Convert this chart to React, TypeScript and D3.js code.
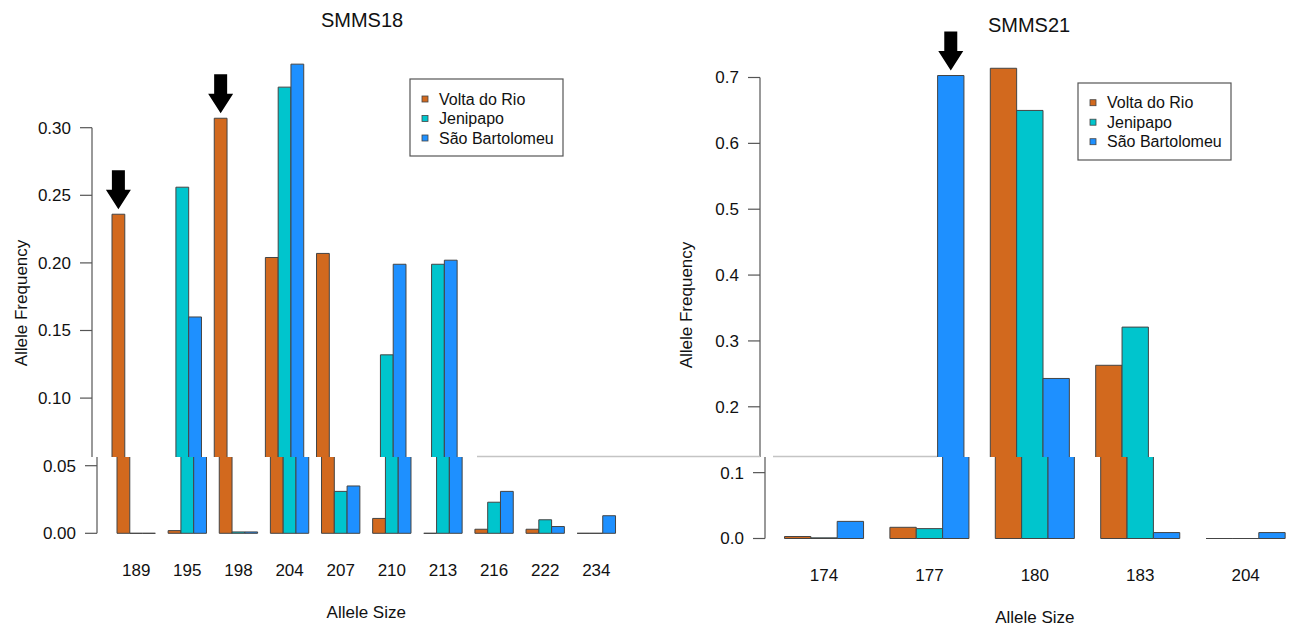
import * as d3 from 'd3'

const series = ['Volta do Rio', 'Jenipapo', 'São Bartolomeu']
const seriesColors = ['#D2691E', '#00C5CD', '#1E90FF']

// SMMS18
const smms18Alleles = ['189', '195', '198', '204', '207', '210', '213', '216', '222', '234']
const smms18VoltaDoRio = [0.236, 0.002, 0.307, 0.204, 0.207, 0.011, 0, 0.003, 0.003, 0]
const smms18Jenipapo = [0, 0.256, 0.001, 0.330, 0.031, 0.132, 0.199, 0.023, 0.010, 0]
const smms18SaoBartolomeu = [0, 0.160, 0.001, 0.347, 0.035, 0.199, 0.202, 0.031, 0.005, 0.013]
const smms18Ticks = [0, 0.05, 0.10, 0.15, 0.20, 0.25, 0.30]
const smms18Arrows = [['189', 'Volta do Rio'], ['198', 'Volta do Rio']]

// SMMS21
const smms21Alleles = ['174', '177', '180', '183', '204']
const smms21VoltaDoRio = [0.003, 0.017, 0.714, 0.263, 0]
const smms21Jenipapo = [0.001, 0.015, 0.650, 0.321, 0]
const smms21SaoBartolomeu = [0.026, 0.703, 0.243, 0.009, 0.009]
const smms21Ticks = [0, 0.1, 0.2, 0.3, 0.4, 0.5, 0.6, 0.7]
const smms21Arrows = [['177', 'São Bartolomeu']]

const FONT = 'Arial, "Liberation Sans", sans-serif'
const TXT = '#111'
const AXIS = '#555'
// the source image has its lower strip (below this y) shifted 5px right
const CUT = 457

type Part = 'upper' | 'lower'

type PanelProps = {
  part: Part
  title: string
  alleles: string[]
  values: number[][]
  ticks: number[]
  fmt: string
  arrows: string[][]
  layout: {
    x0: number; step: number; yBase: number; yTop: number; axisX: number
    titleX: number; titleY: number; labelY: number; xTitleY: number
    yTitleX: number; yTitleY: number
    legX: number; legY: number; legW: number; legH: number; legRow0: number
  }
}

function Panel({ part, title, alleles, values, ticks, fmt, arrows, layout: L }: PanelProps) {
  // texts are drawn only once, in the strip they belong to
  const show = (ty: number) => (ty >= CUT ? 'lower' : 'upper') === part

  const tickMax = ticks[ticks.length - 1]
  const x = d3.scaleBand<string>()
    .domain(alleles)
    .range([L.x0, L.x0 + L.step * (alleles.length - 0.25)])
    .paddingInner(0.25)
    .paddingOuter(0)
  const xs = d3.scaleBand<string>().domain(series).range([0, x.bandwidth()])
  const y = d3.scaleLinear().domain([0, tickMax]).range([L.yBase, L.yTop])
  const f = d3.format(fmt)
  const w = xs.bandwidth()
  const y0 = y(0)

  return (
    <g fontFamily={FONT} fill={TXT}>
      {show(L.titleY) && <text x={L.titleX} y={L.titleY} fontSize={20} textAnchor="middle">{title}</text>}

      {/* y axis */}
      <line x1={L.axisX} x2={L.axisX} y1={y(0)} y2={y(tickMax)} stroke={AXIS} strokeWidth={1.2} />
      {ticks.map(t => (
        <g key={t}>
          <line x1={L.axisX - 12} x2={L.axisX} y1={y(t)} y2={y(t)} stroke={AXIS} strokeWidth={1.2} />
          {show(y(t)) && (
            <text x={L.axisX - 21} y={y(t)} dy="0.35em" fontSize={17} textAnchor="end">{f(t)}</text>
          )}
        </g>
      ))}
      {show(L.yTitleY) && (
        <text transform={`translate(${L.yTitleX},${L.yTitleY}) rotate(-90)`} fontSize={17} textAnchor="middle">
          Allele Frequency
        </text>
      )}

      {/* bars */}
      {alleles.map((a, i) => (
        <g key={a}>
          {series.map((s, j) => {
            const bx = (x(a) ?? 0) + (xs(s) ?? 0)
            const by = y(values[j][i])
            return (
              <path key={s}
                d={`M${bx},${y0}V${by}H${bx + w}V${y0}Z`}
                fill={seriesColors[j]} stroke="#444" strokeWidth={1} />
            )
          })}
          {show(L.labelY) && (
            <text x={(x(a) ?? 0) + x.bandwidth() / 2} y={L.labelY} fontSize={17} textAnchor="middle">{a}</text>
          )}
        </g>
      ))}

      {show(L.xTitleY) && (
        <text x={L.x0 + (L.step * (alleles.length - 0.25)) / 2} y={L.xTitleY} fontSize={17} textAnchor="middle">
          Allele Size
        </text>
      )}

      {/* arrows */}
      {arrows.map(([a, s]) => {
        const j = series.indexOf(s)
        const i = alleles.indexOf(a)
        const cx = (x(a) ?? 0) + (xs(s) ?? 0) + w / 2
        const tip = y(values[j][i]) - 5
        const sw = 6.5, hw = 12.5, hl = 19.5, len = 39
        const pts = [
          [cx - sw, tip - len], [cx + sw, tip - len], [cx + sw, tip - hl],
          [cx + hw, tip - hl], [cx, tip], [cx - hw, tip - hl], [cx - sw, tip - hl],
        ]
        return <polygon key={a + s} points={pts.map(p => p.join(',')).join(' ')} fill="#000" />
      })}

      {/* legend */}
      {part === 'upper' && (
        <g>
          <rect x={L.legX} y={L.legY} width={L.legW} height={L.legH} fill="#fff" stroke={AXIS} strokeWidth={1.2} />
          {series.map((s, j) => {
            const ry = L.legRow0 + j * 19.5
            return (
              <g key={s}>
                <rect x={L.legX + 12} y={ry - 3} width={6} height={6} fill={seriesColors[j]} stroke="#444" strokeWidth={0.8} />
                <text x={L.legX + 29} y={ry} dy="0.35em" fontSize={16}>{s}</text>
              </g>
            )
          })}
        </g>
      )}
    </g>
  )
}

function Charts({ part }: { part: Part }) {
  return (
    <>
      <Panel
        part={part}
        title="SMMS18"
        alleles={smms18Alleles}
        values={[smms18VoltaDoRio, smms18Jenipapo, smms18SaoBartolomeu]}
        ticks={smms18Ticks}
        fmt=".2f"
        arrows={smms18Arrows}
        layout={{
          x0: 112, step: 51.13, yBase: 533.3, yTop: 127.7, axisX: 92,
          titleX: 362, titleY: 27, labelY: 576, xTitleY: 618,
          yTitleX: 27, yTitleY: 303,
          legX: 410, legY: 79, legW: 153, legH: 77, legRow0: 99,
        }}
      />
      <Panel
        part={part}
        title="SMMS21"
        alleles={smms21Alleles}
        values={[smms21VoltaDoRio, smms21Jenipapo, smms21SaoBartolomeu]}
        ticks={smms21Ticks}
        fmt=".1f"
        arrows={smms21Arrows}
        layout={{
          x0: 779.5, step: 105.4, yBase: 538.5, yTop: 77.5, axisX: 760,
          titleX: 1029, titleY: 32, labelY: 581, xTitleY: 623,
          yTitleX: 692, yTitleY: 305,
          legX: 1078, legY: 83, legW: 153, legH: 77, legRow0: 102.7,
        }}
      />
    </>
  )
}

export default function App() {
  return (
    <svg width={1290} height={627} viewBox="0 0 1290 627"
      style={{ position: 'absolute', left: 0, top: 0, background: '#fff' }}>
      <defs>
        <clipPath id="upper"><rect x={-20} y={0} width={1330} height={CUT} /></clipPath>
        <clipPath id="lower"><rect x={-20} y={CUT} width={1330} height={627 - CUT} /></clipPath>
      </defs>
      <rect width={1290} height={627} fill="#fff" />
      <g clipPath="url(#upper)"><Charts part="upper" /></g>
      <g transform="translate(5,0)"><g clipPath="url(#lower)"><Charts part="lower" /></g></g>
      <line x1={477} x2={760} y1={CUT - 0.5} y2={CUT - 0.5} stroke="#c4c4c4" strokeWidth={1.6} />
      <line x1={773} x2={937} y1={CUT - 0.5} y2={CUT - 0.5} stroke="#c4c4c4" strokeWidth={1.6} />
    </svg>
  )
}
